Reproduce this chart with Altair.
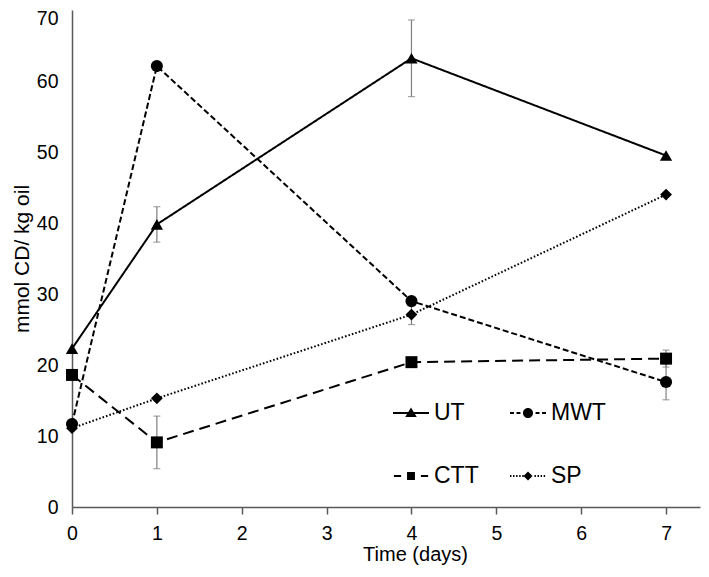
import altair as alt
import pandas as pd

days = [0, 1, 4, 7]
series = ["UT", "MWT", "CTT", "SP"]
ut = [22.3, 39.8, 63.2, 49.5]
mwt = [11.7, 62.1, 29.0, 17.6]
ctt = [18.6, 9.1, 20.4, 20.9]
sp = [11.1, 15.3, 27.1, 44.0]
ut_err = [0, 2.5, 5.4, 0]
mwt_err = [0, 0, 0, 2.5]
ctt_err = [0, 3.7, 0, 1.2]
sp_err = [0, 0, 1.4, 0]
x_ticks = [0, 1, 2, 3, 4, 5, 6, 7]
y_ticks = [0, 10, 20, 30, 40, 50, 60, 70]

rows = []
for name, vals, errs in [("UT", ut, ut_err), ("MWT", mwt, mwt_err),
                         ("CTT", ctt, ctt_err), ("SP", sp, sp_err)]:
    for d, v, e in zip(days, vals, errs):
        rows.append({"day": d, "value": v, "err": e, "series": name,
                     "lo": v - e, "hi": v + e})
df = pd.DataFrame(rows)

FONT = "Liberation Sans"

x_enc = alt.X("day:Q", scale=alt.Scale(domain=[0, 7.4], nice=False),
              axis=alt.Axis(values=x_ticks, format="d", title="Time (days)", grid=False,
                            tickSize=7, labelPadding=10, titlePadding=2,
                            titleX=343, labelFlush=False))
y_enc = alt.Y("value:Q", scale=alt.Scale(domain=[0, 70], nice=False),
              axis=alt.Axis(values=y_ticks, title="mmol CD/ kg oil", grid=False,
                            ticks=False, labelPadding=14, titlePadding=4,
                            titleFontSize=21,
                            labelOffset={"condition": {"test": "datum.value == 70", "value": 8},
                                         "value": 0}))

dash_scale = alt.Scale(domain=series,
                       range=[[1, 0], [6, 3], [11, 6], [1.6, 2]])
shape_scale = alt.Scale(domain=series,
                        range=["triangle-up", "circle", "square", "diamond"])
size_scale = alt.Scale(domain=series, range=[150, 140, 100, 80])

H = 0.055  # half thickness of legend line segments (unit square)


def segs(pairs):
    return "".join(f"M{a:.3f},{-H}H{b:.3f}V{H}H{a:.3f}Z" for a, b in pairs)


dots = []
p = -1.0
while p < 0.98:
    if not (-0.3 < p < 0.3):
        dots.append((p, p + 0.08))
    p += 0.17

legend_paths = [
    segs([(-1, 1)]) + "M0,-0.3L0.32,0.22L-0.32,0.22Z",
    segs([(-1, -0.78), (-0.64, -0.42), (0.42, 0.64), (0.78, 1)])
    + "M0.28,0A0.28,0.28 0 1,1 -0.28,0A0.28,0.28 0 1,1 0.28,0Z",
    segs([(-0.95, -0.55), (0.55, 0.95)]) + "M-0.22,-0.22H0.22V0.22H-0.22Z",
    segs(dots) + "M0,-0.25L0.25,0L0,0.25L-0.25,0Z",
]

base = alt.Chart(df)

lines = base.mark_line(color="black", strokeWidth=2).encode(
    x=x_enc, y=y_enc,
    strokeDash=alt.StrokeDash("series:N", scale=dash_scale, legend=None),
    detail="series:N",
)

err_df = df[df["err"] > 0]
err_rules = alt.Chart(err_df).mark_rule(color="#7f7f7f", strokeWidth=1.2).encode(
    x="day:Q", y="lo:Q", y2="hi:Q")
err_lo = alt.Chart(err_df).mark_tick(color="#7f7f7f", orient="horizontal",
                                      size=7, thickness=1.2).encode(x="day:Q", y="lo:Q")
err_hi = alt.Chart(err_df).mark_tick(color="#7f7f7f", orient="horizontal",
                                      size=7, thickness=1.2).encode(x="day:Q", y="hi:Q")

points = base.mark_point(filled=True, color="black", opacity=1).encode(
    x="day:Q", y="value:Q",
    shape=alt.Shape("series:N", scale=shape_scale, legend=None),
    size=alt.Size("series:N", scale=size_scale, legend=None),
)

legend_layer = base.mark_point(filled=True, color="black", opacity=0).encode(
    x="day:Q", y="value:Q",
    shape=alt.Shape("series:N", scale=alt.Scale(domain=series, range=legend_paths),
                    title=None,
                    legend=alt.Legend(orient="none", legendX=320, legendY=384,
                                      direction="horizontal",
                                      columns=2, columnPadding=28, rowPadding=32,
                                      symbolSize=1296, symbolOpacity=1,
                                      symbolFillColor="black",
                                      labelFontSize=23,
                                      labelFont=FONT, labelColor="black",
                                      labelOffset=4, padding=0, title=None)),
)

chart = alt.layer(lines, err_rules, err_lo, err_hi, points, legend_layer).resolve_scale(
    shape="independent", size="independent"
).properties(
    width=628, height=497,
    autosize=alt.AutoSizeParams(type="none"),
    padding={"left": 64, "top": 2, "right": 1, "bottom": 62},
).configure_view(stroke=None).configure_axis(
    domainColor="#595959", domainWidth=1.5, tickColor="#595959", tickWidth=1.5,
    labelFont=FONT, titleFont=FONT, labelFontSize=19.5, titleFontSize=20,
    labelColor="black", titleColor="black", titleFontWeight="normal",
)

chart.save("out.html", embed_options={"renderer": "svg", "actions": False})
